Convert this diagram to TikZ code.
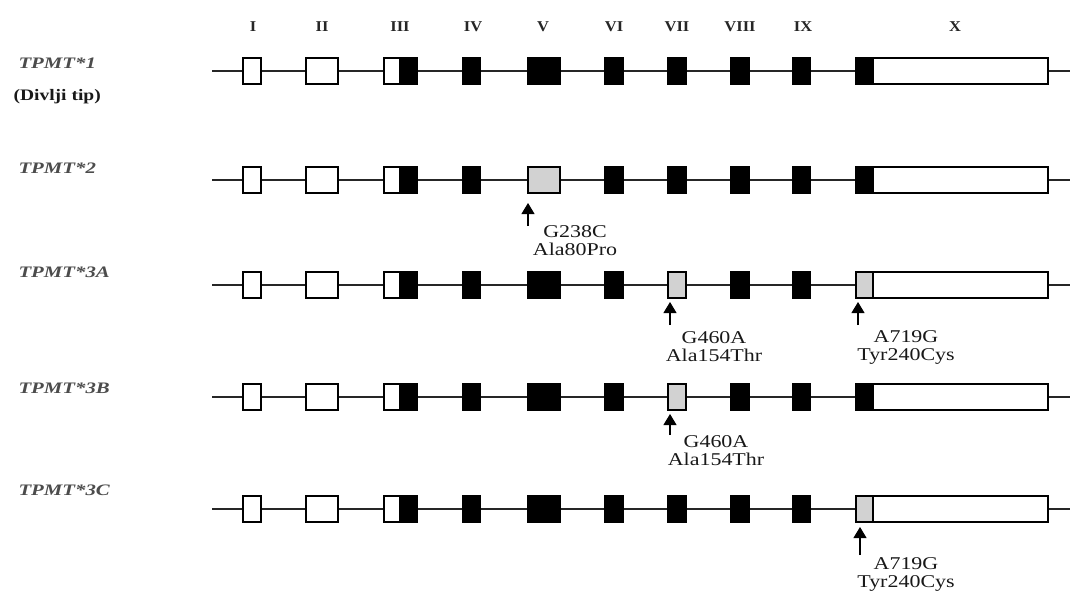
\documentclass[tikz,border=0pt]{standalone}
\usepackage{fontspec}
\setmainfont{Liberation Serif}
\newfontfamily\annfont[FakeStretch=1.22]{Liberation Serif}
\newfontfamily\labfont[FakeStretch=1.3]{Liberation Serif}
\newfontfamily\hdrfont[FakeStretch=1.1]{Liberation Serif}
\usetikzlibrary{arrows.meta}

\tikzset{
 intron/.style={draw=black!85, line width=1.3pt},
 exon/.style={draw=black, line width=1.2pt, inner sep=0pt, outer sep=0pt, minimum height=26pt},
 ew/.style={exon, fill=white},
 eb/.style={exon, fill=black},
 eg/.style={exon, fill=gray!35},
 hdr/.style={font=\hdrfont\bfseries\fontsize{15}{17}\selectfont, text=black!85},
 allele/.style={anchor=west, font=\labfont\bfseries\itshape\fontsize{16}{18}\selectfont, text=black!70},
 wild/.style={anchor=west, font=\annfont\bfseries\fontsize{16}{18}\selectfont, text=black!90},
 ann/.style={font=\annfont\fontsize{18}{18}\selectfont, text=black!90, align=center},
 mut/.style={line width=1.1pt, -{Triangle[width=13pt,length=11pt]}},
}

\newcommand\generow[5]{%
  \coordinate (#1s) at (212,#2);
  \coordinate (#1e) at (1070,#2);
  \draw[intron] (#1s) -- (#1e);
  \node[ew, minimum width=18pt] (#1-I) at (252,#2) {};
  \node[ew, minimum width=32pt] (#1-II) at (322,#2) {};
  \node[ew, minimum width=16pt] (#1-IIIa) at (392,#2) {};
  \node[eb, minimum width=17pt] (#1-IIIb) at (408.5,#2) {};
  \node[eb, minimum width=17pt] (#1-IV) at (471.5,#2) {};
  \node[#3, minimum width=32pt] (#1-V) at (544,#2) {};
  \node[eb, minimum width=18pt] (#1-VI) at (614,#2) {};
  \node[#4, minimum width=18pt] (#1-VII) at (677,#2) {};
  \node[eb, minimum width=18pt] (#1-VIII) at (740,#2) {};
  \node[eb, minimum width=17pt] (#1-IX) at (801.5,#2) {};
  \node[#5, minimum width=17pt] (#1-Xa) at (864.5,#2) {};
  \node[ew, minimum width=175pt] (#1-Xb) at (960.5,#2) {};
}

\begin{document}
\begin{tikzpicture}[x=1pt,y=-1pt]
\useasboundingbox (0,0) rectangle (1071,594);
\fill[white] (0,0) rectangle (1071,594);

\foreach \t/\x in {I/253, II/322, III/400, IV/473, V/543, VI/614, VII/677, VIII/740, IX/803, X/955}
  \node[hdr] (h\t) at (\x,27) {\t};

\generow{r1}{71}{eb}{eb}{eb}
\generow{r2}{180}{eg}{eb}{eb}
\generow{r3}{285}{eb}{eg}{eg}
\generow{r4}{397}{eb}{eg}{eb}
\generow{r5}{509}{eb}{eb}{eg}

\node[allele] (l1) at (15,63) {TPMT*1};
\node[wild] (wt) at (10,97) {(Divlji tip)};
\node[allele] (l2) at (15,168) {TPMT*2};
\node[allele] (l3) at (15,272) {TPMT*3A};
\node[allele] (l4) at (15,388) {TPMT*3B};
\node[allele] (l5) at (15,490) {TPMT*3C};

% TPMT*2
\coordinate (m2t) at (528,226);
\draw[mut] (m2t) -- ([yshift=-10pt]m2t |- r2-V.south);
\node[ann] (m2a) at (575,241) {G238C\\Ala80Pro};

% TPMT*3A
\coordinate (m3t) at (670,325);
\draw[mut] (m3t) -- ([yshift=-4pt]m3t |- r3-VII.south);
\node[ann] (m3a) at (714,347) {G460A\\Ala154Thr};
\coordinate (m3u) at (858,325);
\draw[mut] (m3u) -- ([yshift=-4pt]m3u |- r3-Xa.south);
\node[ann] (m3b) at (906,347) {A719G\\Tyr240Cys};

% TPMT*3B
\coordinate (m4t) at (670,435);
\draw[mut] (m4t) -- ([yshift=-4pt]m4t |- r4-VII.south);
\node[ann] (m4a) at (716,451) {G460A\\Ala154Thr};

% TPMT*3C
\coordinate (m5t) at (860,555);
\draw[mut] (m5t) -- ([yshift=-5pt]m5t |- r5-Xa.south);
\node[ann] (m5a) at (906,574) {A719G\\Tyr240Cys};
\end{tikzpicture}
\end{document}
